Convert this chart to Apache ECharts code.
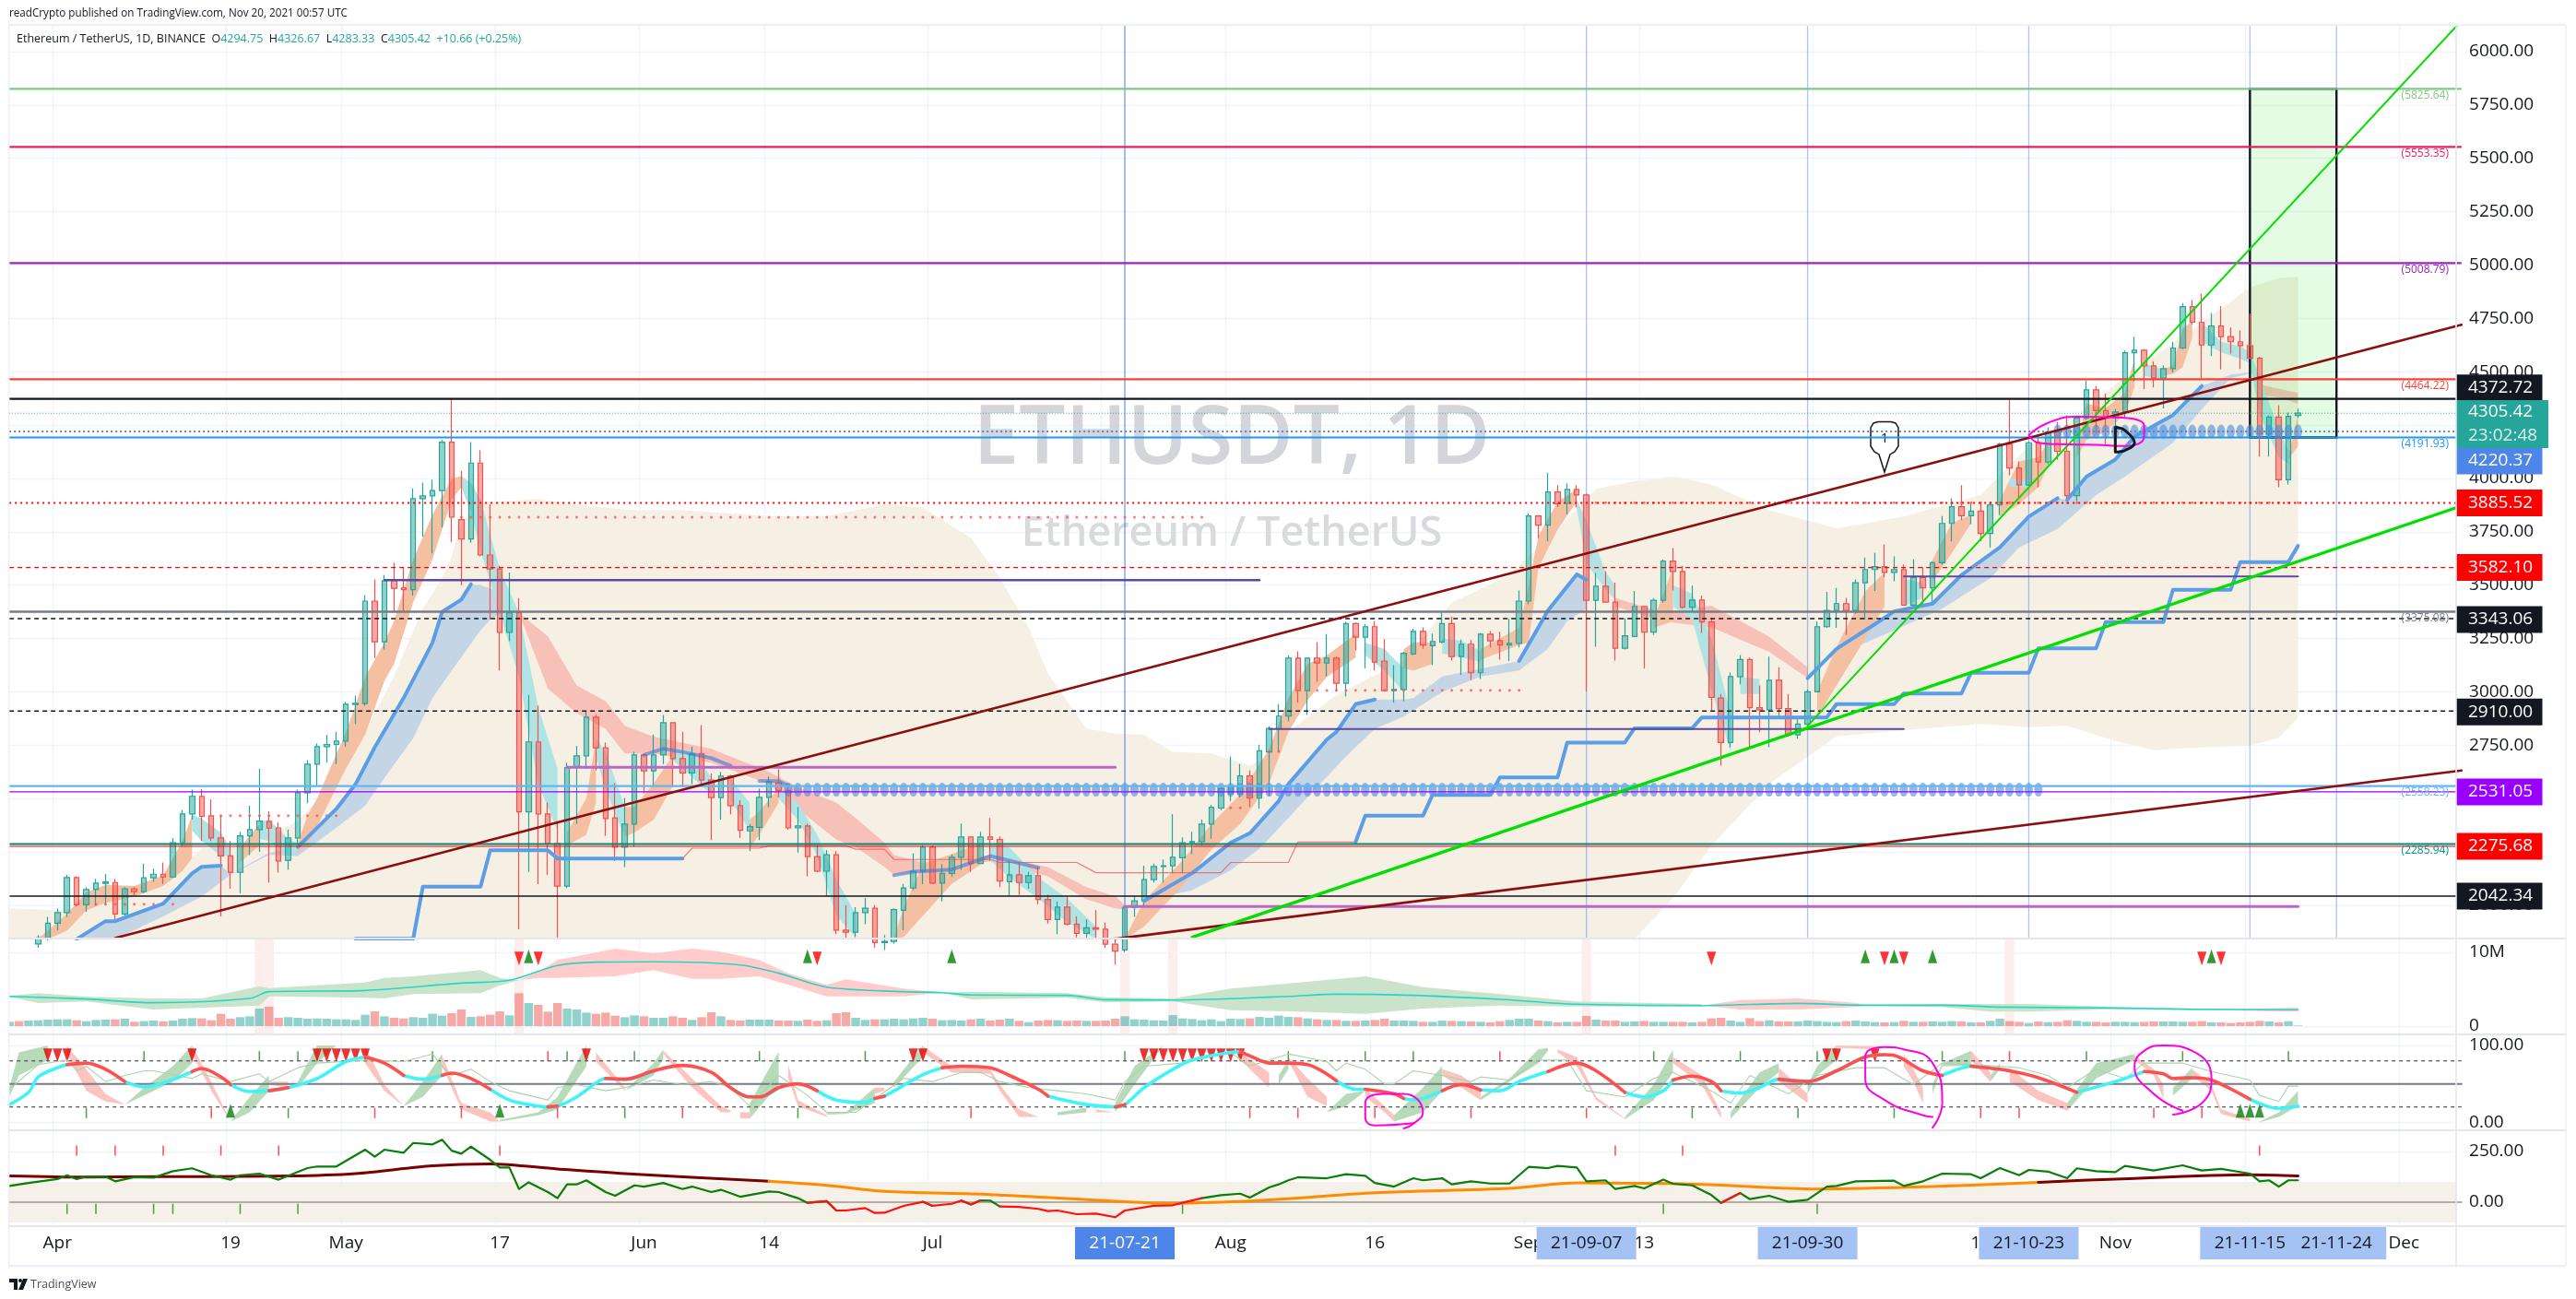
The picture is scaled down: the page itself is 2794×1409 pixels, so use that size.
<!DOCTYPE html>
<html><head><meta charset="utf-8"><style>html,body{margin:0;padding:0;background:#fff}#c{width:2794px;height:1409px}</style>
<script src="https://cdn.jsdelivr.net/npm/echarts@6/dist/echarts.min.js"></script></head><body><div id="c"></div><script>
const FONT='"Open Sans",sans-serif';
// ---------- price candles, index 0 = 2021-03-27 ----------
const opens=[1700,1715,1690,1818,1846,1915,1965,2129,2002,2073,2102,2106,1959,2077,2063,2128,2145,2132,2293,2427,2510,2419,2315,2231,2154,2325,2354,2393,2362,2210,2315,2527,2661,2743,2753,2769,2940,2945,3425,3234,3521,3487,3478,3905,3918,3943,4170,3807,3716,4072,3641,3576,3279,3370,2437,2765,2427,2289,2089,2645,2700,2881,2737,2409,2272,2380,2704,2629,2704,2855,2687,2620,2711,2586,2504,2605,2466,2348,2365,2505,2573,2538,2362,2371,2228,2159,2236,1883,1873,1965,1986,1825,1830,1976,2081,2159,2272,2103,2149,2224,2319,2195,2319,2308,2110,2142,2106,2138,2027,1933,1991,1911,1868,1894,1887,1817,1790,1990,2020,2120,2181,2184,2222,2293,2298,2380,2455,2521,2521,2606,2502,2718,2826,2886,3158,3005,3158,3135,3158,3040,3320,3256,3305,3144,3005,3011,3177,3283,3216,3233,3320,3165,3223,3089,3270,3240,3219,3227,3425,3824,3781,3936,3883,3948,3922,3429,3495,3420,3204,3259,3400,3280,3429,3612,3564,3396,3430,3327,2971,2762,3071,3151,2925,2916,3054,2921,2798,2849,3000,3305,3381,3413,3381,3511,3573,3586,3559,3573,3406,3536,3487,3605,3789,3867,3825,3847,3742,3876,4160,4049,3969,4167,4077,4217,4127,3919,4282,4415,4318,4285,4311,4589,4601,4527,4470,4514,4611,4805,4732,4625,4714,4664,4640,4622,4563,4207,4287,3994,4294.75];
const highs=[1725,1730,1830,1860,1945,1984,2142,2135,2084,2123,2146,2123,2084,2084,2195,2171,2200,2315,2445,2541,2545,2495,2423,2301,2344,2466,2639,2440,2387,2354,2541,2680,2758,2798,2812,2952,2982,3453,3526,3547,3605,3583,3953,3980,3994,4180,4372,4034,4170,4132,3879,3590,3559,3439,2985,2935,2481,2394,2668,2747,2906,2891,2762,2570,2502,2718,2711,2800,2891,2858,2812,2743,2844,2617,2625,2611,2492,2380,2546,2603,2636,2550,2459,2380,2282,2258,2253,2000,1990,2034,2000,1860,1985,2100,2243,2282,2279,2192,2238,2383,2319,2344,2409,2322,2206,2199,2156,2180,2048,2017,2041,1947,1933,1976,1919,1850,1998,2041,2185,2195,2214,2427,2318,2344,2401,2469,2552,2697,2661,2632,2752,2838,2942,3170,3190,3161,3233,3270,3165,3328,3324,3317,3331,3247,3125,3187,3295,3302,3273,3371,3353,3245,3242,3276,3285,3281,3342,3475,3835,3828,4027,3968,3977,3968,3929,3557,3564,3511,3345,3472,3403,3439,3619,3673,3590,3497,3451,3345,2990,3090,3172,3160,3030,3165,3115,2990,2880,3010,3330,3468,3486,3440,3526,3629,3652,3691,3634,3597,3622,3583,3612,3824,3907,3968,3886,3886,3886,4167,4374,4078,4174,4196,4239,4265,4296,4296,4459,4433,4397,4325,4599,4664,4606,4549,4530,4640,4822,4837,4866,4775,4808,4707,4693,4772,4570,4296,4343,4308,4326.67];
const lows=[1680,1670,1680,1800,1835,1882,1945,1993,1969,1998,2005,1933,1950,2046,2056,2109,2099,2128,2278,2401,2301,2301,1947,2077,2056,2236,2250,2106,2152,2167,2286,2478,2560,2668,2661,2743,2848,2935,3158,3198,3374,3374,3451,3727,3648,3770,3703,3500,3698,3634,3338,3100,3237,1887,2156,2099,2142,1840,2080,2380,2639,2632,2325,2207,2178,2272,2524,2553,2661,2553,2553,2567,2567,2305,2401,2426,2315,2253,2305,2459,2506,2353,2247,2135,2155,2041,1864,1840,1850,1911,1800,1790,1820,1882,2070,2098,2098,2017,2132,2164,2156,2192,2206,2084,2045,2048,2077,2005,1914,1864,1905,1840,1845,1847,1800,1720,1780,1945,1994,2106,2106,2149,2149,2239,2279,2311,2444,2488,2505,2459,2452,2510,2718,2862,2949,2891,3047,3072,3002,2978,3194,3110,3100,3002,2949,2956,3172,3201,3126,3227,3146,3079,3054,3060,3208,3151,3144,3208,3410,3720,3706,3867,3832,3864,3002,3211,3420,3146,3198,3259,3108,3266,3417,3475,3389,3374,3276,2913,2654,2740,3035,2740,2810,2740,2880,2790,2780,2835,3000,3300,3300,3266,3366,3338,3472,3536,3518,3406,3403,3403,3413,3597,3705,3804,3785,3706,3677,3828,4015,3907,3965,3958,4066,4087,3893,3893,4275,4210,4160,4167,4282,4455,4419,4426,4328,4498,4606,4722,4469,4573,4510,4585,4513,4559,4102,4102,3958,3972,4283.33];
const closes=[1715,1690,1818,1846,1915,1965,2129,2002,2073,2103,2109,1959,2077,2063,2128,2145,2132,2293,2427,2510,2416,2315,2231,2154,2325,2354,2394,2361,2207,2315,2527,2661,2743,2753,2769,2942,2946,3425,3234,3521,3485,3478,3905,3918,3943,4170,3818,3716,4072,3641,3576,3279,3370,2437,2765,2427,2289,2089,2645,2700,2881,2737,2406,2272,2380,2704,2629,2704,2855,2687,2620,2708,2586,2504,2605,2466,2351,2368,2505,2579,2538,2362,2371,2228,2159,2236,1883,1873,1965,1986,1825,1830,1979,2081,2159,2272,2103,2149,2224,2319,2195,2319,2308,2113,2142,2106,2138,2027,1933,1991,1911,1868,1894,1887,1817,1785,1990,2020,2120,2181,2184,2224,2293,2298,2380,2459,2546,2555,2606,2502,2723,2828,2886,3158,3005,3158,3135,3158,3040,3320,3256,3305,3139,3005,3011,3180,3283,3219,3236,3320,3165,3223,3089,3270,3239,3219,3227,3425,3824,3781,3936,3881,3948,3922,3429,3495,3420,3204,3262,3400,3280,3429,3612,3564,3396,3430,3327,2974,2762,3071,3151,2925,2916,3054,2921,2798,2849,3000,3305,3381,3413,3381,3511,3573,3586,3559,3573,3406,3536,3487,3605,3789,3867,3825,3847,3742,3876,4160,4049,3969,4167,4077,4217,4127,3919,4282,4415,4318,4285,4311,4589,4601,4527,4470,4514,4611,4805,4732,4625,4714,4664,4640,4622,4563,4207,4287,3994,4291,4305.42];
// ---------- volume (millions) ----------
const volumes=[.58,.67,.75,.79,.88,.92,.92,.79,.67,.83,.88,.92,1,.58,.67,.75,.63,.75,1,1.08,1.04,.79,1.67,1,1.21,1.33,2.38,2.63,1.13,1.21,1.13,1,1.04,1,.92,.92,.83,1.54,2,1.33,1.13,1.04,1.21,1.13,1.67,1.42,1.75,2.25,1.25,1.33,1.54,2,1.46,4.46,3.13,2.88,1.96,3.13,2.38,2.25,1.83,1.67,1.83,1.42,1.21,1.46,1.33,1.13,1.13,1.33,1.13,.83,1.21,1.88,1.33,.83,.75,.88,.88,.88,.75,.75,.71,.88,.71,.79,1.75,1.88,1.13,.83,.92,.92,1,.92,1.04,1.13,1,.79,.83,.75,.92,1,.75,.88,1,.71,.54,.75,.83,.79,.71,.75,.71,.71,.75,1,1.33,.92,.88,.79,.75,1.5,1.04,.96,.79,.92,.67,1,.96,1.04,1.25,1.13,1.42,1.25,1.21,1.04,.92,.83,.83,.71,.71,.75,.83,1,.75,.75,.71,.58,.58,.75,.71,.67,.63,.58,.5,.67,.83,1,1,.75,.67,.5,.58,.58,1.38,.88,.75,.75,.58,.63,.71,.58,.58,.58,.58,.5,.58,1.04,1.13,.75,.58,1.08,.67,.79,.63,.63,.63,.75,.67,.58,.54,.67,.75,.63,.54,.5,.54,.71,.58,.58,.63,.58,.67,.63,.5,.5,.71,1,.67,.58,.42,.63,.54,.58,.79,.71,.58,.58,.5,.58,.58,.54,.58,.63,.63,.63,.58,.58,.67,.5,.5,.42,.5,.58,.71,.63,.5,.67,.08];
const volLineIdx=[0,8,15,25,27,37,47,52,57,61,67,76,80,85,93,97,100,110,114,121,133,138,146,155,163,176,186,193,201,207,218,227,238];
const volLineVal=[4.04,3.67,3.17,3.75,4.67,4.83,5.83,6.21,8.21,8.67,8.71,8.29,7.17,5.29,4.67,4.54,4.21,4.17,3.58,3.54,4.04,4.33,4.17,3.63,2.96,2.79,3.08,2.83,2.83,2.58,2.46,2.29,2.21];
const volGreenRibbons=[[[0,4.13,3.96],[3,4.46,3.13],[8,4,3.33],[15,3.75,2.25],[20,3.75,2.5],[26,5.42,2.79],[27,5.17,4.04],[37,5.92,3.83],[39,6.54,3.75],[42,6.75,4.33],[49,7.58,4.46],[51,6.54,5.5],[53,6.21,6.21]],
[[97,4.54,4.54],[100,4.67,3.63],[110,4.46,3.83],[114,3.92,3.21],[121,3.75,3.33],[127,5.08,2.17],[133,5.79,2],[141,6.75,1.67],[147,5.29,2.38],[155,4.33,2.79],[163,3.33,2.67],[176,3,2.67]],
[[193,2.92,2.75],[201,3,2.58],[206,3,1.96],[210,3,1.96],[218,2.67,2.25],[227,2.42,2.17],[232,2.3,2.2]]];
const volPinkRibbons=[[[53,6.21,6.21],[55,7.38,6.54],[57,8.96,6.54],[63,10.5,6.75],[67,9.88,7.58],[71,10.5,6.42],[74,10.08,6.42],[78,8.96,6.75],[81,7.17,5.58],[85,5.58,4.04],[87,6.33,4.04],[93,5.08,4.04],[97,4.54,4.54]],
[[176,2.79,2.79],[180,3.54,2.25],[186,3.75,2.25],[192,3.17,2.58],[193,2.92,2.75]],[[232,2.3,2.1],[237,2.5,1.96],[238,2.5,1.96]]];
const volStrips=[26,27,53,116,121,164,208];
const volUpMarks=[54,83,98,193,196,200,229];
const volDownMarks=[53,55,84,177,195,197,228,230];
// ---------- main pane overlays ----------
const bbIdx=[0,5,10,16,20,25,30,34,37,40,43,45,46,47,49,52,55,60,65,70,80,85,88,91,95,100,103,106,108,112,115,118,121,125,129,131,133,138,145,150,156,161,165,169,173,177,183,190,197,205,210,214,219,223,228,233,236,238];
const bbUpper=[1984,1976,2005,2091,2265,2279,2394,2581,2812,3072,3389,3533,3634,3792,3886,3896,3903,3871,3850,3850,3821,3824,3850,3879,3864,3720,3533,3302,3086,2827,2805,2798,2719,2711,2654,2697,2812,2985,3144,3417,3547,3763,3951,3987,4008,3972,3850,3766,3821,3922,4152,4253,4441,4570,4729,4895,4938,4945];
const bbLower=[1700,1700,1700,1700,1700,1700,1700,1700,1700,1700,1700,1700,1700,1700,1700,1700,1700,1700,1700,1700,1700,1700,1700,1700,1700,1700,1700,1700,1700,1700,1700,1700,1700,1700,1700,1700,1700,1700,1700,1700,1700,1700,1700,1841,2034,2279,2568,2791,2820,2849,2834,2841,2769,2726,2740,2748,2784,2877];
const orangeRibbons=[[[3,1845,1841],[4,1880,1841],[6,1960,1880],[8,2060,1975],[10,2095,2010],[13,2090,2040],[16,2140,2090],[18,2300,2160],[19,2420,2220]],
[[24,2270,2200],[26,2380,2280]],
[[30,2290,2250],[31,2420,2280],[32,2500,2370],[35,2810,2640],[37,3070,2800],[39,3230,3050],[40,3330,3130],[42,3620,3420],[44,3830,3620],[46,4000,3900],[47,4010,3960]],
[[58,2340,2280],[60,2500,2330],[61,2780,2480]],[[64,2460,2320],[65,2460,2340],[67,2570,2400],[69,2700,2560]],[[77,2400,2270],[78,2440,2330],[80,2550,2480]],
[[92,1845,1841],[93,1990,1850],[95,2190,1950],[98,2240,2100],[101,2290,2190]],
[[116,1845,1841],[118,2020,1900],[122,2210,2090],[125,2380,2260],[128,2520,2380],[131,2730,2570],[133,2970,2810],[135,3130,2960],[137,3170,3070],[140,3270,3160]],
[[145,3200,3110],[146,3230,3100],[148,3230,3130]],[[153,3200,3150],[157,3300,3220],[158,3500,3230],[159,3730,3580],[161,3890,3760],[163,3950,3890]],
[[171,3340,3300],[173,3580,3330]],[[188,3000,2880],[190,3210,3030],[193,3470,3250],[195,3560,3400]],[[200,3620,3520],[202,3790,3650],[204,3830,3790]],
[[207,3900,3820],[209,4080,3880],[211,4100,3960],[212,4170,4060]],[[215,4150,4100],[216,4350,4180],[218,4330,4220],[220,4400,4300],[221,4560,4430]],
[[224,4510,4480],[225,4530,4490],[226,4700,4520],[227,4740,4660]],[[237,4100,4090],[238,4300,4150]]];
const tealRibbons=[[[19,2425,2350],[20,2405,2300],[22,2340,2230],[23,2260,2230]],[[26,2390,2310],[27,2400,2300],[29,2310,2240],[30,2290,2260]],
[[47,4010,3960],[48,3980,3840],[49,3900,3660],[51,3575,3370],[53,3370,3070],[55,2927,2567],[57,2640,2350]],[[61,2780,2690],[62,2720,2550],[63,2590,2420],[64,2460,2330]],
[[69,2740,2680],[71,2720,2600],[73,2600,2520]],[[75,2590,2490],[77,2480,2350]],[[80,2550,2500],[82,2480,2400],[84,2330,2230],[86,2120,1950],[88,1960,1850]],
[[102,2290,2210],[104,2270,2130],[107,2130,2030],[110,2030,1920],[113,1900,1841]],[[141,3230,3170],[143,3200,3100],[145,3110,3000]],[[149,3250,3180],[151,3240,3160],[153,3190,3140]],
[[163,3900,3860],[164,3800,3600],[166,3560,3480],[167,3500,3430]],[[173,3500,3400],[175,3460,3340],[177,3250,3010],[179,2900,2720]],[[180,3070,2990],[182,3060,2990]],
[[197,3530,3400],[199,3510,3440]],[[208,4000,3960],[210,3990,3960]],[[222,4540,4480],[224,4510,4460]],[[228,4730,4640],[230,4640,4590],[232,4620,4560],[233,4590,4540],[234,4480,4300],[236,4230,4100],[237,4130,4070]]];
const pinkRibbons=[[[53,3370,3370],[56,3260,3015],[59,3030,2900],[62,2956,2827],[64,2841,2711],[67,2790,2711],[73,2733,2668],[79,2625,2567],[82,2553,2451],[86,2480,2307],[88,2409,2272],[91,2293,2179],[92,2235,2142],[95,2200,2160],[102,2235,2205],[108,2178,2135],[112,2084,2027],[115,2041,1985],[116,2000,1980]],
[[167,3440,3400],[172,3370,3330],[177,3403,3302],[183,3259,3187],[187,3115,3064]],[[234,4440,4390],[236,4420,4380],[238,4400,4350]]];
const blueRibbons=[{top:[[7,1841],[10,1925],[11,1925],[16,2007],[19,2149],[20,2180],[22,2185],[23,2145],[27,2245],[30,2273],[34,2451],[36,2567],[38,2740],[41,2971],[44,3230],[45,3374],[47,3432],[48,3504],[49,3500],[51,3468],[53,3374]],
low:[[7,1841],[11,1841],[16,1947],[20,2040],[23,2142],[27,2236],[30,2230],[33,2330],[37,2466],[39,2596],[42,2783],[44,2971],[46,3100],[49,3288],[50,3338],[52,3389],[53,3374]]},
{top:[[118,2020],[123,2150],[127,2293],[129,2337],[132,2488],[133,2567],[137,2776],[138,2812],[140,2942],[142,2964],[145,2964],[146,2970],[149,3072],[157,3144],[160,3381],[163,3550],[164,3525]],
low:[[118,2020],[123,2070],[127,2163],[130,2265],[133,2408],[136,2553],[139,2697],[142,2826],[145,2884],[149,2999],[153,3072],[157,3100],[160,3201],[162,3331],[164,3389]]},
{top:[[187,3064],[190,3201],[194,3317],[196,3377],[200,3413],[203,3547],[207,3677],[210,3821],[213,3907],[214,3900],[216,4008],[219,4088],[221,4196],[225,4297],[228,4433],[231,4487],[233,4498],[234,4490]],
low:[[187,3064],[189,3151],[196,3288],[201,3389],[206,3533],[209,3677],[213,3763],[217,3922],[220,4008],[225,4167],[228,4325],[231,4469],[233,4491],[234,4490]]}];
const blueEdges=[[[7,1841],[10,1925],[11,1925],[16,2007],[19,2149],[20,2180],[22,2185]],[[30,2273],[34,2451],[36,2567],[38,2740],[41,2971],[44,3230],[45,3374],[47,3432],[48,3504]],
[[118,2020],[123,2150],[127,2293],[129,2337],[132,2488],[133,2567],[137,2776],[138,2812],[140,2942],[142,2964]],[[157,3144],[160,3381],[163,3550],[164,3525]],
[[187,3064],[190,3201],[194,3317],[196,3377],[200,3413],[203,3547],[207,3677],[210,3821],[213,3907]],[[214,3900],[216,4008],[219,4088],[221,4196],[225,4297],[228,4433]]];
const blueFaintEdges=[[[66,2704],[68,2733],[70,2718],[73,2689],[75,2653]],[[78,2581],[80,2581],[81,2560]],[[92,2140],[94,2157],[98,2167],[102,2230],[107,2175]]];
const stairBlueA=[[36,1843],[42,1843],[43,2087],[49,2087],[50,2257],[56,2257],[57,2218],[70,2218]];
const stairRed=[[70,2218],[71,2267],[78,2267],[79,2279],[87,2279],[88,2262],[91,2262],[92,2214],[102,2214],[103,2200],[111,2200],[113,2152],[126,2152],[127,2200],[133,2200],[134,2296],[140,2296]];
const stairBlueB=[[140,2296],[141,2419],[147,2419],[148,2517],[154,2517],[155,2599],[161,2599],[162,2762],[168,2762],[169,2829],[175,2829],[176,2880],[189,2880],[190,2942],[196,2942],[197,2992],[203,2992],[204,3089],[210,3089],[211,3204],[217,3204],[218,3327],[224,3327],[225,3478],[231,3478],[232,3608],[237,3608],[238,3684]];
const trendDark=[[[11,1846],[255,4720]],[[115,1842],[255,2631]]];
const trendGreen=[[123,1850],[255,3871]];
const trendGreenThin=[[187,2840],[255,6145]];
const levels=[[5825.64,'#81c784',2.2,'solid'],[5553.35,'#e91e63',2.2,'solid'],[5008.79,'#9c27b0',2.2,'solid'],[4464.22,'#f44336',2.2,'solid'],[4372.72,'#131722',2.2,'solid'],[4305.42,'#26a69a',1,[1,2]],[4220.37,'#4d85e8',2,[2,3]],[4191.93,'#2196f3',2.2,'solid'],[3885.52,'#ff0000',2,[2,4]],[3582.10,'#ff0000',1.4,[5,4]],[3375.08,'#787b86',2.4,'solid'],[3343.06,'#131722',1.4,[5,4]],[2910,'#131722',1.4,[5,4]],[2558.23,'#64b5f6',2.4,'solid'],[2531.05,'#9900ff',1.2,'solid'],[2285.94,'#00897b',2,'solid'],[2275.68,'#ff0000',1.2,'solid'],[2042.34,'#131722',1.4,'solid']];
const segments=[[39,130,3523,'#5e4b9e',2.4],[131,197,2825,'#5e4b9e',2],[197,238,3540,'#5e4b9e',2],[58,115,2646,'#ba68c8',3],[116,238,1994,'#ba68c8',3]];
const levelTexts=[[5825.64,'#81c784'],[5553.35,'#e91e63'],[5008.79,'#9c27b0'],[4464.22,'#f44336'],[4191.93,'#2196f3'],[3375.08,'#787b86'],[2558.23,'#64b5f6'],[2285.94,'#009688']];
const priceTags=[['4372.72',4372.72,'#131722',-12],['3885.52',3885.52,'#ff0000',0],['3582.10',3582.1,'#ff0000',0],['3343.06',3343.06,'#131722',1],['2910.00',2910,'#131722',1],['2531.05',2531.05,'#9900ff',0],['2275.68',2275.68,'#ff0000',0],['2042.34',2042.34,'#131722',0],['4220.37',4220.37,'#4d85e8',32]];
const verticalMarks=[[116,'rgba(33,100,230,.65)'],[164,'rgba(70,125,230,.45)'],[187,'rgba(70,125,230,.45)'],[210,'rgba(70,125,230,.45)'],[233,'rgba(70,125,230,.45)'],[242,'rgba(70,125,230,.45)']];
const targetBox=[233,242,4191.93,5825.64];
const dotRows=[[81,211,2541],[213,238,4220]];
const plusRows=[[9,17,2005],[22,34,2419],[47,124,3818],[127,128,2456],[131,132,2721],[136,157,3007],[165,238,3886]];
const ellipsePts=[[210,4203],[212,4260],[215,4289],[219,4286],[222,4246],[222,4196],[220,4152],[217,4157],[213,4160],[211,4167],[210,4203]];
const scribblePts=[[219,4124],[219,4239],[220,4225],[221,4167],[220,4131],[219,4124]];
// ---------- stochastic pane ----------
const stochMain=[[0,23,'C'],[2,39,'C'],[3,59,'C'],[5,71,'C'],[6,75,'R'],[8,77,'R'],[10,69,'R'],[12,53,'C'],[14,46,'C'],[16,51,'C'],[19,66,'R'],[20,70,'R'],[22,59,'R'],[23,49,'C'],[25,40,'C'],[27,41,'R'],[29,45,'C'],[32,57,'C'],[35,79,'C'],[37,85,'R'],[39,77,'R'],[41,61,'C'],[43,56,'C'],[45,61,'R'],[46,64,'R'],[48,57,'R'],[50,43,'C'],[52,29,'C'],[54,23,'C'],[56,20,'R'],[57,21,'C'],[59,33,'C'],[61,51,'C'],[62,57,'R'],[64,56,'C'],[67,67,'R'],[70,74,'R'],[73,65,'R'],[75,45,'C'],[77,33,'R'],[78,33,'C'],[80,45,'R'],[82,50,'R'],[84,41,'C'],[86,29,'C'],[89,26,'C'],[90,31,'R'],[91,34,'C'],[95,62,'C'],[97,71,'R'],[99,73,'R'],[102,71,'R'],[104,61,'R'],[107,43,'R'],[108,34,'C'],[110,28,'C'],[112,23,'C'],[115,20,'R'],[116,23,'C'],[118,45,'C'],[121,69,'C'],[123,81,'C'],[126,89,'C'],[128,92,'R'],[130,81,'R'],[131,77,'C'],[133,77,'R'],[135,75,'R'],[138,54,'C'],[140,43,'C'],[141,43,'R'],[144,37,'R'],[145,31,'C'],[146,29,'C'],[149,41,'R'],[151,49,'R'],[153,42,'C'],[155,41,'C'],[157,53,'C'],[160,66,'R'],[163,77,'R'],[165,67,'R'],[168,39,'C'],[170,33,'C'],[172,41,'C'],[173,55,'R'],[175,60,'R'],[177,53,'R'],[178,41,'C'],[180,38,'C'],[182,45,'C'],[184,56,'R'],[187,53,'C'],[190,67,'R'],[193,85,'C'],[195,88,'R'],[196,87,'R'],[199,67,'R'],[201,61,'C'],[202,66,'C'],[204,73,'R'],[207,69,'C'],[208,67,'R'],[211,58,'R'],[215,39,'C'],[219,53,'C'],[222,66,'R'],[224,63,'R'],[225,57,'C'],[227,58,'R'],[229,55,'R'],[233,30,'C'],[236,18,'C'],[238,21,'C']];
const stochThin=[[0,43],[3,75],[6,81],[7,67],[8,73],[10,53],[12,61],[14,67],[15,67],[19,57],[20,63],[23,53],[26,63],[27,53],[30,71],[32,77],[37,81],[38,81],[41,79],[44,89],[45,73],[46,61],[48,69],[50,53],[52,41],[56,29],[57,45],[59,49],[62,41],[64,45],[67,55],[70,49],[73,53],[75,45],[77,21],[80,61],[83,35],[85,13],[88,13],[93,57],[96,53],[99,65],[101,65],[103,53],[106,45],[109,41],[112,37],[115,29],[116,53],[118,73],[122,77],[127,91],[129,73],[133,89],[137,79],[138,67],[139,77],[141,69],[143,50],[144,50],[146,67],[149,61],[152,53],[153,59],[156,55],[159,81],[162,81],[164,41],[168,33],[171,57],[173,65],[177,41],[179,25],[181,61],[185,37],[188,61],[192,71],[195,71],[198,49],[201,77],[207,73],[209,71],[212,61],[214,45],[217,69],[220,57],[222,77],[226,77],[229,66],[233,55],[234,35],[236,27],[237,47],[238,47]];
const stochGreen=[[[0,45,33],[1,91,61],[4,100,81]],[[12,23,23],[14,45,35],[17,73,53],[19,100,77]],[[23,1,1],[25,33,13],[27,61,41]],[[30,53,45],[32,100,77],[34,100,100]],[[41,21,21],[43,53,33],[45,89,61]],[[51,3,1],[55,13,9],[57,33,17],[60,100,73]],[[64,41,41],[67,77,61],[68,95,83]],[[77,25,5],[80,92,49]],[[85,13,10],[87,13,11],[90,45,25]],[[92,53,45],[95,100,85]],[[109,13,9],[112,19,13]],[[115,25,13],[117,73,49],[120,100,100]],[[132,61,49],[133,81,69]],[[137,13,13],[139,37,21],[141,41,41]],[[144,9,1],[147,45,13],[149,73,41]],[[153,33,29],[156,57,53],[159,95,77],[160,97,93]],[[168,7,4],[171,49,29],[173,95,65]],[[179,13,5],[182,65,45],[184,77,65]],[[187,49,37],[188,73,61],[190,100,81]],[[200,49,37],[201,77,73],[204,93,73]],[[206,61,53],[207,77,69]],[[214,25,15],[217,77,57],[221,89,81]],[[225,45,35],[227,71,57]],[[234,1,0],[236,13,7],[238,41,21]]];
const stochPink=[[[6,99,89],[8,69,41],[10,37,27],[12,23,23]],[[19,100,89],[21,53,41],[23,1,1]],[[27,53,49],[29,53,45]],[[37,99,77],[39,49,41],[41,21,21]],[[45,87,73],[47,25,17],[50,13,1],[51,1,1]],[[61,91,79],[64,45,41]],[[68,93,89],[71,57,45],[74,21,13],[75,15,13]],[[76,13,5],[77,13,5]],[[81,75,57],[82,29,21],[85,9,7]],[[90,45,37],[91,45,41]],[[95,99,91],[98,73,65],[102,69,63],[103,49,41],[105,17,7],[107,7,7]],[[113,17,13],[115,13,13]],[[128,91,81],[131,65,45]],[[133,85,80],[135,57,33],[137,33,21]],[[141,44,33],[143,21,13],[144,9,1]],[[149,69,61],[151,61,45],[153,41,29]],[[161,95,91],[163,85,73],[165,33,29],[168,5,4]],[[173,85,77],[176,61,49],[178,13,5]],[[184,71,53],[187,37,25]],[[190,100,97],[194,99,95]],[[197,89,73],[198,69,53],[199,45,25]],[[204,93,81],[206,65,53]],[[208,71,53],[211,41,29],[214,25,15]],[[221,87,81],[223,69,61],[224,49,31]],[[227,69,61],[229,49,41],[230,17,11],[233,5,1]]];
const stochTopGreen=[14,26,30,44,58,65,78,89,116,133,141,146,171,180,188,201,216,226,237];
const stochTopRed=[56,155,208];
const stochLowGreen=[8,29,64,82,175,186,196];
const stochLowRed=[21,38,47,57,70,100,129,134,142,152,164,205,209,223,228];
const stochDownTri=[4,5,6,19,32,33,34,35,36,37,60,94,95,118,119,120,121,122,123,124,125,126,127,128,189,190,194];
const stochUpTri=[23,51,232,233,234];
const magentaMarks=[[[146,-1],[142,-4],[141,7],[141,25],[143,37],[145,37],[147,13],[146,-2],[145,-8]],[[200,-7],[201,25],[200,77],[197,95],[195,98],[193,85],[193,57],[195,29],[199,9],[200,7]],[[226,15],[223,37],[221,73],[222,93],[224,100],[227,93],[229,57],[228,25],[225,10]]];
// ---------- CCI pane ----------
const cciIdx=[0,2,5,6,7,8,10,11,13,15,17,19,21,23,24,26,28,31,32,34,37,38,39,41,42,44,45,46,47,48,50,51,52,53,54,56,57,58,59,60,62,63,65,66,68,70,71,73,74,76,79,80,82,83,85,86,87,89,90,91,93,95,96,98,99,100,101,102,103,105,107,108,109,111,113,115,116,119,121,122,124,126,128,129,131,132,133,134,137,139,141,142,144,146,147,149,150,152,154,156,158,160,161,163,164,166,167,169,170,172,173,175,177,178,180,181,183,185,187,189,190,192,196,197,199,201,204,205,207,209,210,212,214,215,217,219,220,223,226,228,230,233,234,235,236,237,238];
const cciVal=[80,95,114,133,114,126,126,103,123,121,153,167,133,111,133,141,111,168,176,176,259,224,259,244,292,285,308,254,239,274,209,171,171,65,98,50,20,88,88,108,50,32,83,77,95,65,77,50,61,27,53,50,20,-3,5,-41,-41,-29,-53,-52,-18,2,-18,-8,8,-11,9,8,-21,-23,-33,-44,-41,-59,-56,-74,-41,-18,-15,-3,20,35,42,23,73,88,108,123,118,138,130,95,77,118,108,118,88,103,92,92,174,168,179,171,103,108,65,80,68,111,91,83,35,-3,45,15,32,2,12,77,80,103,106,80,103,141,138,118,168,133,159,151,118,167,153,148,179,156,182,156,164,141,103,108,77,108,108];
const cciMaDark=[[0,130],[8,124],[16,126],[29,129],[36,141],[44,179],[50,189],[57,164],[64,141],[79,103]];
const cciMaOrange=[[79,103],[85,83],[91,53],[102,38],[115,5],[121,-6],[127,2],[133,17],[142,47],[156,68],[163,95],[176,88],[188,65],[200,77],[211,98]];
const cciMaDark2=[[211,98],[219,114],[233,135],[238,129]];
const cciTopRed=[7,11,16,22,28,51,167,174,234];
const cciLowGreen=[6,9,15,17,24,30,122,172,188];
// ---------- axes ----------
const axisLabels={5:'Apr',23:'19',35:'May',51:'17',66:'Jun',79:'14',96:'Jul',114:'19',127:'Aug',142:'16',158:'Sep',170:'13',188:'Oct',205:'18',219:'Nov',233:'15',249:'Dec'};
const dateTags=[[116,'21-07-21','#4d85e8','#fff'],[164,'21-09-07','#a4c2f4','#131722'],[187,'21-09-30','#a4c2f4','#131722'],[210,'21-10-23','#a4c2f4','#131722'],[233,'21-11-15','#a4c2f4','#131722'],[242,'21-11-24','#a4c2f4','#131722']];
const priceTicks=[2000,2250,2500,2750,3000,3250,3500,3750,4000,4250,4500,4750,5000,5250,5500,5750,6000];

const N=256,START=Date.UTC(2021,2,27);
const categories=Array.from({length:N},(_,i)=>new Date(START+i*864e5).toISOString().slice(0,10));
const STEP=10.43,LEFT=4.94,RIGHT=2794-(LEFT+N*STEP);
const panes=[[27,1018],[1018,1122],[1122,1226],[1226,1330]];
const fontAxis=19;
const isTick=i=>i in axisLabels;
const grids=panes.map(p=>({left:LEFT,right:RIGHT,top:p[0],height:p[1]-p[0]}));
const xAxes=panes.map((p,g)=>({type:'category',gridIndex:g,data:categories,boundaryGap:true,
  axisLine:{show:false},axisTick:{show:false,alignWithLabel:true,interval:isTick},
  splitLine:{show:true,interval:isTick,lineStyle:{color:'#f0f3fa',width:1.4}},
  axisLabel:g===3?{show:true,interval:isTick,formatter:(v,i)=>axisLabels[i]||'',color:'#131722',fontSize:fontAxis,fontFamily:FONT,margin:9,hideOverlap:false}:{show:false}}));
function yPair(g,min,max,ticks,fmt){
  const base={type:'value',gridIndex:g,min,max,position:'right',axisLine:{show:false},axisTick:{show:false,customValues:ticks}};
  return [Object.assign({},base,{z:0,axisLabel:{show:false,customValues:ticks},splitLine:{show:true,lineStyle:{color:'#f0f3fa',width:1.4}}}),
          Object.assign({},base,{z:5,splitLine:{show:false},axisLabel:{show:true,customValues:ticks,formatter:fmt,color:'#131722',fontSize:fontAxis,fontFamily:FONT,margin:3,align:'left'}})];
}
const s2=(1217.3-1134)/100, s3=(1304-1249)/250;
const yAxes=[...yPair(0,1843.6,6125.3,priceTicks,v=>v.toFixed(2)),
  ...yPair(1,-1.125,11.875,[0,10],v=>v===10?'10M':'0'),
  ...yPair(2,-(1226-1217.3)/s2,100+(1134-1122)/s2,[0,100],v=>v.toFixed(2)),
  ...yPair(3,-(1330-1304)/s3,250+(1249-1226)/s3,[0,250],v=>v.toFixed(2))];

const series=[];
const refs=g=>({xAxisIndex:g,yAxisIndex:g*2});
function shapeSeries(g,build,opt){ // one drawing whose points pass through the axes' scales
  series.push(Object.assign({type:'custom',...refs(g),data:[[0,0]],clip:true,silent:true,animation:false,
    renderItem:(p,api)=>build(p,api)},opt||{}));
}
function ribbon(g,list,fill,opt){
  shapeSeries(g,(p,api)=>({type:'group',children:list.map(r=>({type:'polygon',shape:{points:[...r.map(a=>api.coord([a[0],a[1]])),...r.slice().reverse().map(a=>api.coord([a[0],a[2]]))]},style:{fill}}))}),opt);
}
function line(g,data,color,width,extra){
  series.push(Object.assign({type:'line',...refs(g),data,symbol:'none',silent:true,animation:false,clip:true,lineStyle:{color,width,type:'solid',cap:'round',join:'round'}},extra||{}));
}
function scatter(g,idx,val,symbol,size,color,rot){
  series.push({type:'scatter',...refs(g),data:idx.map(i=>[i,val]),symbol,symbolSize:size,symbolRotate:rot||0,itemStyle:{color},silent:true,animation:false});
}
const zip=(a,b)=>a.map((x,i)=>[x,b[i]]);
function flagged(pts,flag){const out=[];pts.forEach((p,k)=>{const nx=pts[k+1];if(p[2]===flag){out.push([p[0],p[1]]);if(nx&&nx[2]!==flag){out.push([nx[0],nx[1]]);}}else if(!nx||nx[2]!==flag){out.push([p[0],'-']);}});return out;}
// main pane
ribbon(0,[bbIdx.map((x,i)=>[x,bbUpper[i],bbLower[i]])],'#f6efe3');
shapeSeries(0,(p,api)=>({type:'group',children:blueRibbons.map(b=>({type:'polygon',shape:{points:[...b.top.map(a=>api.coord(a)),...b.low.slice().reverse().map(a=>api.coord(a))]},style:{fill:'#c4d6e6'}}))}));
ribbon(0,pinkRibbons,'#f7c1b8');
ribbon(0,orangeRibbons,'#f5c0a2');
ribbon(0,tealRibbons,'#aee4e4');
blueFaintEdges.forEach(e=>line(0,e,'rgba(60,120,210,.6)',4));
blueEdges.forEach(e=>line(0,e,'#5b9ee6',4));
line(0,stairBlueA,'#5b9ee6',4);
line(0,stairRed,'rgba(239,83,80,.75)',1.2);
line(0,stairBlueB,'#5b9ee6',4);
series.push({type:'candlestick',...refs(0),barWidth:6,clip:true,silent:true,animation:false,
  data:opens.map((o,i)=>[o,closes[i],lows[i],highs[i]]),
  itemStyle:{color:'rgba(38,166,154,.5)',color0:'rgba(239,83,80,.5)',borderColor:'#26a69a',borderColor0:'#ef5350',borderWidth:1.2}});
dotRows.forEach(r=>{const xs=[];for(let i=r[0];i<=r[1];i++)xs.push(i);
  series.push({type:'scatter',...refs(0),data:xs.map(i=>[i,r[2]]),symbol:'circle',symbolSize:[9,15],itemStyle:{color:'rgba(75,140,215,.75)'},silent:true,animation:false});});
plusRows.forEach(r=>{const xs=[];for(let i=r[0];i<=r[1];i++)xs.push(i);scatter(0,xs,r[2],'circle',3,'#ff5252');});
levels.forEach(l=>line(0,[[0,l[0]],[N-1,l[0]]],l[1],l[2],{lineStyle:{color:l[1],width:l[2],type:l[3]}}));
segments.forEach(s=>line(0,[[s[0],s[2]],[s[1],s[2]]],s[3],s[4]));
trendDark.forEach(t=>line(0,t,'#8b0f0f',2.6));
line(0,trendGreen,'#00e000',3.4);
line(0,trendGreenThin,'#00e000',2);
shapeSeries(0,(p,api)=>{const c=p.coordSys;return {type:'group',children:verticalMarks.map(m=>{const x=api.coord([m[0],3000])[0];return {type:'line',shape:{x1:x,y1:c.y,x2:x,y2:c.y+c.height},style:{stroke:m[1],lineWidth:1.3}};})};});
shapeSeries(0,(p,api)=>{const a=api.coord([targetBox[0],targetBox[3]]),b=api.coord([targetBox[1],targetBox[2]]);
  return {type:'rect',shape:{x:a[0],y:a[1],width:b[0]-a[0],height:b[1]-a[1]},style:{fill:'rgba(0,230,0,.11)',stroke:'#131722',lineWidth:2.4}};});
line(0,ellipsePts,'#ff00e0',2,{smooth:.5});
line(0,scribblePts,'#131722',3,{smooth:.4});
// callout "1"
shapeSeries(0,(p,api)=>{const t=api.coord([195,4030]);const x=t[0],y=t[1];
  return {type:'group',children:[
   {type:'polygon',shape:{points:[[x,y],[x-6,y-19],[x-11,y-22],[x-15,y-28],[x-15,y-48],[x-12,y-53],[x-7,y-54.5],[x+7,y-54.5],[x+12,y-53],[x+15,y-48],[x+15,y-28],[x+11,y-22],[x+6,y-19]]},style:{fill:'#fff',stroke:'#131722',lineWidth:1.5}},
   {type:'text',style:{x:x,y:y-36,text:'1',fill:'#131722',font:'15px '+FONT,align:'center',verticalAlign:'middle'}}]};},{clip:false});
// volume pane
shapeSeries(1,(p,api)=>{const c=p.coordSys;return {type:'group',children:volStrips.map(i=>{const x=api.coord([i,0])[0];return {type:'rect',shape:{x:x-STEP/2,y:c.y,width:STEP,height:c.height},style:{fill:'#fdeeee'}};})};});
ribbon(1,volGreenRibbons,'#c9e4ca');
ribbon(1,volPinkRibbons,'#ffcccb');
series.push({type:'bar',...refs(1),barWidth:9.4,silent:true,animation:false,
  data:volumes.map((v,i)=>({value:v,itemStyle:{color:closes[i]>=opens[i]?'rgba(38,166,154,.5)':'rgba(239,83,80,.5)'}}))});
line(1,zip(volLineIdx,volLineVal),'#26d5c4',1.6,{smooth:.3});
scatter(1,volUpMarks,9.46,'triangle',[10,15],'#008000');
scatter(1,volDownMarks,9.17,'triangle',[10,15],'#ff0000',180);
// stochastic pane
ribbon(2,stochGreen,'#b7dab8');
ribbon(2,stochPink,'#fcc4bf');
line(2,[[0,80],[N-1,80]],'#5d606b',1.4,{lineStyle:{color:'#5d606b',width:1.4,type:[4,4]}});
line(2,[[0,20],[N-1,20]],'#5d606b',1.4,{lineStyle:{color:'#5d606b',width:1.4,type:[4,4]}});
line(2,[[0,50],[N-1,50]],'#787b86',2);
line(2,stochThin,'#a9d3aa',1.1);
line(2,flagged(stochMain,'C'),'#40f3f8',3.6,{smooth:.35,connectNulls:false});
line(2,flagged(stochMain,'R'),'#ff5050',3.6,{smooth:.35,connectNulls:false});
scatter(2,stochTopGreen,86,'rect',[1.5,11],'#1b8a1b');
scatter(2,stochTopRed,86,'rect',[1.5,11],'#ff2020');
scatter(2,stochLowGreen,12,'rect',[1.5,11],'#1b8a1b');
scatter(2,stochLowRed,12,'rect',[1.5,11],'#ff2020');
scatter(2,stochDownTri,87,'triangle',[10,15],'#e50000',180);
scatter(2,stochUpTri,15,'triangle',[10,15],'#0a7d0a');
magentaMarks.forEach(m=>line(2,m,'#ff00e0',2,{smooth:.5,clip:false}));
// CCI pane
shapeSeries(3,(p,api)=>{const a=api.coord([0,100]),b=api.coord([0,-100]),c=p.coordSys;return {type:'rect',shape:{x:c.x,y:a[1],width:c.width,height:b[1]-a[1]},style:{fill:'#f5f0e8'}};});
line(3,[[0,0],[N-1,0]],'#b2aca5',2);
line(3,cciMaDark,'#7b0000',3,{smooth:.3});
line(3,cciMaOrange,'#ff8c00',3,{smooth:.3});
line(3,cciMaDark2,'#7b0000',3,{smooth:.3});
const cciPts=zip(cciIdx,cciVal).map(p=>[p[0],p[1],p[1]<0?'R':'G']);
line(3,flagged(cciPts,'G'),'#0a7d0a',2.2,{connectNulls:false});
line(3,flagged(cciPts,'R'),'#ff1010',2.2,{connectNulls:false});
scatter(3,cciTopRed,255,'rect',[1.5,11],'#ff2020');
scatter(3,cciLowGreen,-33,'rect',[1.5,11],'#1b8a1b');
// right-hand level captions and tags
shapeSeries(0,(p,api)=>({type:'group',children:levelTexts.map(t=>({type:'text',style:{x:2656,y:api.coord([0,t[0]])[1]+7,text:'('+t[0].toFixed(2)+')',fill:t[1],font:'12px '+FONT,align:'right',verticalAlign:'middle'}}))}),{clip:false,z:4});
shapeSeries(0,(p,api)=>{const kids=[];priceTags.forEach(t=>{const y=api.coord([0,t[1]])[1]+t[3];
  kids.push({type:'rect',shape:{x:2664,y:y-14.5,width:93.5,height:29},style:{fill:t[2]}});
  kids.push({type:'text',style:{x:2677,y:y,text:t[0],fill:'#fff',font:fontAxis+'px '+FONT,verticalAlign:'middle'}});});
  const ty=460;
  kids.push({type:'rect',shape:{x:2664,y:ty-26,width:100,height:52},style:{fill:'#26a69a'}});
  kids.push({type:'text',style:{x:2677,y:ty-13,text:'4305.42',fill:'#fff',font:fontAxis+'px '+FONT,verticalAlign:'middle'}});
  kids.push({type:'text',style:{x:2677,y:ty+13,text:'23:02:48',fill:'#fff',font:fontAxis+'px '+FONT,verticalAlign:'middle',opacity:.85}});
  return {type:'group',children:kids};},{clip:false,z:6});
shapeSeries(3,(p,api)=>{const c=p.coordSys,kids=[];dateTags.forEach(t=>{const x=api.coord([t[0],0])[0];
  kids.push({type:'rect',shape:{x:x-54,y:c.y+c.height,width:108,height:36},style:{fill:t[2]}});
  kids.push({type:'text',style:{x:x,y:c.y+c.height+19,text:t[1],fill:t[3],font:fontAxis+'px '+FONT,align:'center',verticalAlign:'middle'}});});
  return {type:'group',children:kids};},{clip:false,z:6});

const rule=(x1,y1,x2,y2,c,w)=>({type:'line',z:10,silent:true,shape:{x1,y1,x2,y2},style:{stroke:c,lineWidth:w}});
const chart=echarts.init(document.getElementById('c'),null,{renderer:'canvas'});
chart.setOption({animation:false,backgroundColor:'#fff',grid:grids,xAxis:xAxes,yAxis:yAxes,series,
 graphic:{elements:[
  {type:'text',z:1,silent:true,style:{x:1336,y:478,text:'ETHUSDT, 1D',fill:'#d3d5da',font:'600 89px '+FONT,align:'center',verticalAlign:'middle'}},
  {type:'text',z:1,silent:true,style:{x:1336,y:579,text:'Ethereum / TetherUS',fill:'#d8dade',font:'600 45px '+FONT,align:'center',verticalAlign:'middle'}},
  {type:'rect',z:3,silent:true,shape:{x:2664.5,y:0,width:130,height:1409},style:{fill:'#fff'}},
  {type:'rect',z:3,silent:true,shape:{x:0,y:0,width:9.5,height:1409},style:{fill:'#fff'}},
  {type:'text',z:10,silent:true,style:{x:10,y:15,text:'readCrypto published on TradingView.com, Nov 20, 2021 00:57 UTC',fill:'#131722',font:'11.7px '+FONT,verticalAlign:'middle'}},
  {type:'text',z:10,silent:true,style:{x:18,y:42,text:'{b|Ethereum / TetherUS, 1D, BINANCE  O}{g|4294.75}{b|  H}{g|4326.67}{b|  L}{g|4283.33}{b|  C}{g|4305.42}{g|  +10.66 (+0.25%)}',rich:{b:{fill:'#131722',font:'12.5px '+FONT},g:{fill:'#26a69a',font:'12.5px '+FONT}},verticalAlign:'middle'}},
  rule(9,27,2783,27,'#eef0f6',2.4),rule(9.5,27,9.5,1373,'#eef0f6',1.6),rule(2783,27,2783,1373,'#eef0f6',1.6),rule(9,1373,2783,1373,'#eef0f6',2.4),
  rule(9,1018,2783,1018,'#e4e6ec',2),rule(9,1122,2783,1122,'#e4e6ec',2),rule(9,1226,2783,1226,'#e4e6ec',2),rule(9,1330,2783,1330,'#e4e6ec',2),rule(2664,27,2664,1373,'#e4e6ec',1.6),
  {type:'polygon',z:10,silent:true,shape:{points:[[10,1387],[19,1387],[19,1399],[15,1399],[15,1391],[10,1391]]},style:{fill:'#131722'}},
  {type:'circle',z:10,silent:true,shape:{cx:22,cy:1389,r:2},style:{fill:'#131722'}},
  {type:'polygon',z:10,silent:true,shape:{points:[[25,1387],[30,1387],[25,1399],[20,1399]]},style:{fill:'#131722'}},
  {type:'text',z:10,silent:true,style:{x:33,y:1393,text:'TradingView',fill:'#4a4e59',font:'12.5px '+FONT,verticalAlign:'middle'}}
 ]}});
</script></body></html>
